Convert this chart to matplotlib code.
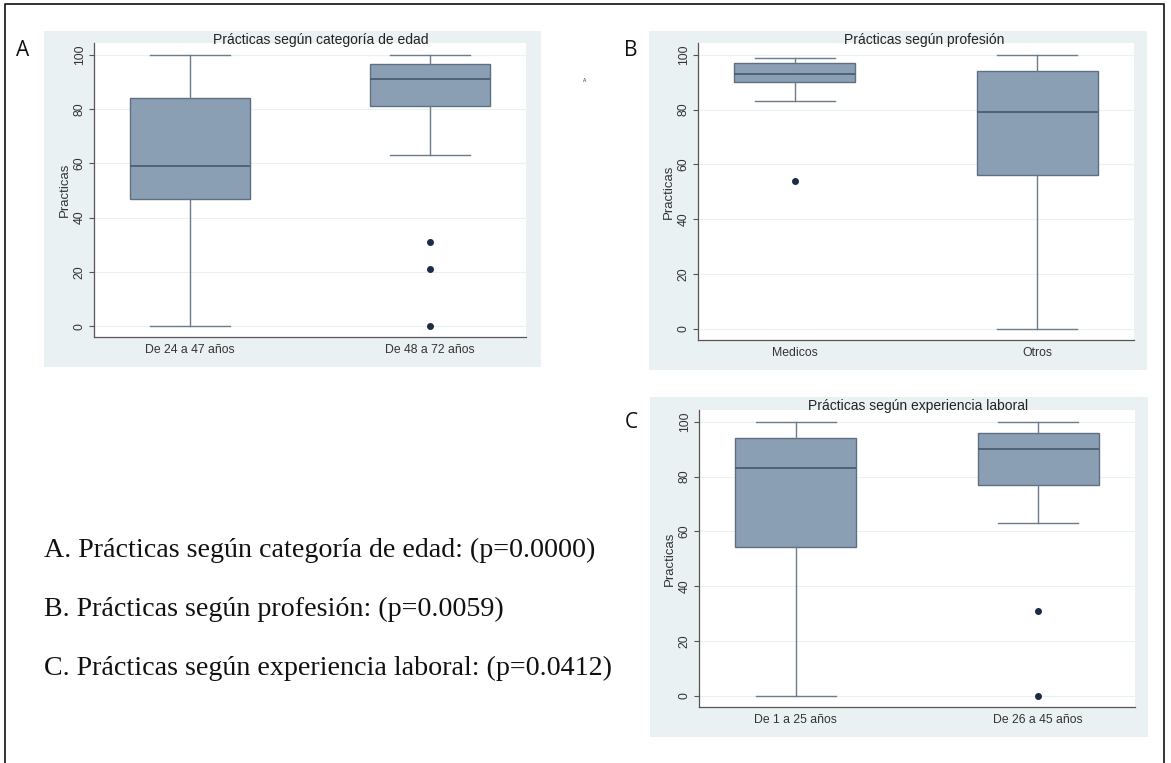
import matplotlib
matplotlib.use("Agg")
import matplotlib.pyplot as plt
from matplotlib.patches import Rectangle

W, H = 1171, 763

# panel A: practicas segun categoria de edad
a_labels = ["De 24 a 47 años", "De 48 a 72 años"]
a_whislo = [0, 63]
a_q1 = [47, 81]
a_med = [59, 91]
a_q3 = [84, 96.5]
a_whishi = [100, 100]
a_fliers = [[], [31, 21, 0]]

# panel B: practicas segun profesion
b_labels = ["Medicos", "Otros"]
b_whislo = [83, 0]
b_q1 = [90, 56]
b_med = [93, 79]
b_q3 = [97, 94]
b_whishi = [99, 100]
b_fliers = [[54], []]

# panel C: practicas segun experiencia laboral
c_labels = ["De 1 a 25 años", "De 26 a 45 años"]
c_whislo = [0, 63]
c_q1 = [54.5, 77]
c_med = [83, 90]
c_q3 = [94, 96]
c_whishi = [100, 100]
c_fliers = [[], [31, 0]]

yticks = [0, 20, 40, 60, 80, 100]

notes = ["A. Prácticas según categoría de edad: (p=0.0000)",
         "B. Prácticas según profesión: (p=0.0059)",
         "C. Prácticas según experiencia laboral: (p=0.0412)"]

BG = "#eaf1f3"
BOX = "#8b9fb4"
EDGE = "#5e6f82"
MED = "#4b5d70"
DOT = "#1b2c45"

plt.rcParams["font.family"] = ["Liberation Sans", "DejaVu Sans"]

fig = plt.figure(figsize=(W / 100, H / 100), dpi=100)
fig.patch.set_facecolor("white")


def px_rect(x0, y0, x1, y1, **kw):
    # rectangle given in image pixels (origin top left)
    r = Rectangle((x0 / W, 1 - y1 / H), (x1 - x0) / W, (y1 - y0) / H,
                  transform=fig.transFigure, **kw)
    fig.patches.append(r)


def panel(plot_box, bg_box, title, title_xy, labels, whislo, q1, med, q3, whishi, fliers):
    px_rect(*bg_box, facecolor=BG, edgecolor="none", zorder=-1)
    x0, y0, x1, y1 = plot_box
    ax = fig.add_axes([x0 / W, 1 - y1 / H, (x1 - x0) / W, (y1 - y0) / H])
    ax.set_zorder(2)
    ax.set_facecolor("white")
    stats = []
    for i in range(len(labels)):
        stats.append(dict(label=labels[i], whislo=whislo[i], q1=q1[i], med=med[i],
                          q3=q3[i], whishi=whishi[i], fliers=fliers[i]))
    ax.bxp(stats, positions=[1, 2], widths=0.5, capwidths=0.33, patch_artist=True,
           boxprops=dict(facecolor=BOX, edgecolor=EDGE, linewidth=1.0),
           medianprops=dict(color=MED, linewidth=1.3),
           whiskerprops=dict(color="#6d7c8c", linewidth=1.0),
           capprops=dict(color="#6d7c8c", linewidth=1.0),
           flierprops=dict(marker="o", markersize=4, markerfacecolor=DOT,
                           markeredgecolor=DOT))
    ax.set_xlim(0.6, 2.4)
    ax.set_ylim(-4, 104.3)
    ax.set_yticks(yticks)
    ax.set_yticklabels([str(t) for t in yticks], rotation=90, va="center", fontsize=8.8,
                       color="#333333")
    ax.tick_params(axis="y", length=3.5, width=0.8, pad=2.5, color="#555555")
    ax.tick_params(axis="x", length=0, pad=5, labelsize=8.8, labelcolor="#333333")
    ax.set_ylabel("Practicas", fontsize=9.5, color="#333333", labelpad=2)
    ax.grid(axis="y", color="#ebf0f1", linewidth=0.8)
    ax.set_axisbelow(True)
    for s in ["top", "right"]:
        ax.spines[s].set_visible(False)
    for s in ["left", "bottom"]:
        ax.spines[s].set_color("#555555")
        ax.spines[s].set_linewidth(0.9)
    fig.text(title_xy[0] / W, 1 - title_xy[1] / H, title, ha="center", va="center",
             fontsize=10, color="#222222", zorder=3)
    return ax


panel((94, 43, 526, 337), (44, 31, 541, 367), "Prácticas según categoría de edad", (321, 40),
      a_labels, a_whislo, a_q1, a_med, a_q3, a_whishi, a_fliers)
panel((698, 43, 1134, 340), (649, 31, 1147, 370), "Prácticas según profesión", (924, 40),
      b_labels, b_whislo, b_q1, b_med, b_q3, b_whishi, b_fliers)
panel((699, 410, 1135, 707), (650, 397, 1148, 737), "Prácticas según experiencia laboral", (918, 406),
      c_labels, c_whislo, c_q1, c_med, c_q3, c_whishi, c_fliers)

# panel letters
for letter, (x, y) in zip(["A", "B", "C"], [(23, 50), (631, 50), (631, 422)]):
    fig.text(x / W, 1 - y / H, letter, ha="center", va="center", fontsize=15,
             family=["Open Sans", "DejaVu Sans"], color="#111111")
fig.text(585 / W, 1 - 80 / H, "A", ha="center", va="center", fontsize=3.5, color="#333333")

# p-value notes
for note, y in zip(notes, [550, 609, 668]):
    fig.text(44 / W, 1 - y / H, note, ha="left", va="center", fontsize=20.2,
             family=["Liberation Serif", "DejaVu Serif"], color="#111111")

# outer frame (open at the bottom)
fig.add_artist(plt.Line2D([5 / W, 5 / W, 1164 / W, 1164 / W], [0, 1 - 4 / H, 1 - 4 / H, 0],
                          transform=fig.transFigure, color="#222222", linewidth=1.3))

fig.savefig("out.png", dpi=100, facecolor="white")
